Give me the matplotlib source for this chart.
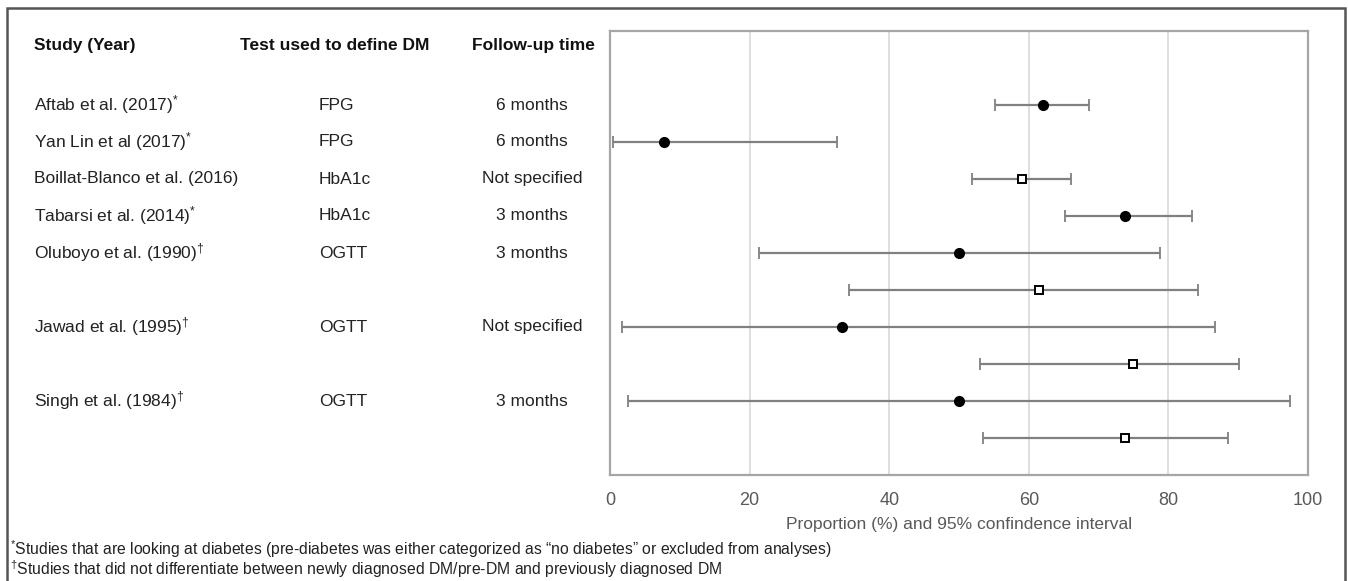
import matplotlib.pyplot as plt
import matplotlib.transforms as mtransforms
from matplotlib.patches import Rectangle

plt.rcParams['font.family'] = ['Liberation Sans', 'DejaVu Sans']
plt.rcParams['mathtext.fontset'] = 'custom'
plt.rcParams['mathtext.rm'] = 'Liberation Sans'
plt.rcParams['mathtext.it'] = 'Liberation Sans'

# Table columns (one entry per study)
studies = ['Aftab et al. (2017)$^{*}$', 'Yan Lin et al (2017)$^{*}$',
           'Boillat-Blanco et al. (2016)', 'Tabarsi et al. (2014)$^{*}$',
           'Oluboyo et al. (1990)$^{\\dagger}$', 'Jawad et al. (1995)$^{\\dagger}$',
           'Singh et al. (1984)$^{\\dagger}$']
tests = ['FPG', 'FPG', 'HbA1c', 'HbA1c', 'OGTT', 'OGTT', 'OGTT']
followup = ['6 months', '6 months', 'Not specified', '3 months', '3 months',
            'Not specified', '3 months']
study_rows = [1, 2, 3, 4, 5, 7, 9]

# Forest plot rows (proportion and 95% CI)
rows = [1, 2, 3, 4, 5, 6, 7, 8, 9, 10]
estimate = [62.1, 7.8, 59.0, 73.8, 50.0, 61.4, 33.3, 74.9, 50.0, 73.8]
ci_low = [55.1, 0.5, 51.9, 65.2, 21.3, 34.2, 1.7, 53.0, 2.6, 53.4]
ci_high = [68.6, 32.5, 66.1, 83.4, 78.8, 84.2, 86.7, 90.1, 97.4, 88.6]
marker_kind = ['circle', 'circle', 'square', 'circle', 'circle',
               'square', 'circle', 'square', 'circle', 'square']

fig = plt.figure(figsize=(13.48, 5.81), dpi=100)
ax = fig.add_axes([610 / 1348, 1 - 475 / 581, 698 / 1348, 444 / 581])

for r, est, lo, hi, kind in zip(rows, estimate, ci_low, ci_high, marker_kind):
    ax.errorbar([est], [r], xerr=[[est - lo], [hi - est]], fmt='none',
                ecolor='#808080', elinewidth=1.6, capsize=4, capthick=1.3, zorder=2)
    if kind == 'circle':
        ax.plot(est, r, 'o', color='black', markersize=7, zorder=3)
    else:
        ax.plot(est, r, 's', markerfacecolor='white', markeredgecolor='black',
                markeredgewidth=1.4, markersize=6, zorder=3)

ax.set_xlim(0, 100)
ax.set_ylim(11, -1)
ax.set_xticks([0, 20, 40, 60, 80, 100])
ax.set_yticks([])
ax.grid(axis='x', color='#d9d9d9', linewidth=1.2)
ax.set_axisbelow(True)
ax.tick_params(axis='x', length=0, pad=12, labelsize=13, labelcolor='#595959')
for s in ax.spines.values():
    s.set_color('#a6a6a6')
    s.set_linewidth(1.6)
ax.set_xlabel('Proportion (%) and 95% confindence interval', fontsize=12.5,
              color='#595959', labelpad=6)

# table text to the left, rows tied to the axes y scale
trans = mtransforms.blended_transform_factory(fig.transFigure, ax.transData)
hdr_y = -0.6
fig.text(34 / 1348, hdr_y, 'Study (Year)', transform=trans, fontsize=12.5,
         fontweight='bold', va='center', ha='left', color='#111111')
fig.text(335 / 1348, hdr_y, 'Test used to define DM', transform=trans, fontsize=12.5,
         fontweight='bold', va='center', ha='center', color='#111111')
fig.text(533 / 1348, hdr_y, 'Follow-up time', transform=trans, fontsize=12.5,
         fontweight='bold', va='center', ha='center', color='#111111')

for r, name, test, fu in zip(study_rows, studies, tests, followup):
    fig.text(34 / 1348, r, name, transform=trans, fontsize=12.5, va='center',
             ha='left', color='#222222')
    fig.text(319 / 1348, r, test, transform=trans, fontsize=12.5, va='center',
             ha='left', color='#222222')
    fig.text(532 / 1348, r, fu, transform=trans, fontsize=12.5, va='center',
             ha='center', color='#222222')

# footnotes
fig.text(10 / 1348, 1 - 549 / 581,
         '$^{*}$Studies that are looking at diabetes (pre-diabetes was either categorized as '
         '\u201cno diabetes\u201d or excluded from analyses)',
         fontsize=11.3, va='center', ha='left', color='#222222')
fig.text(10 / 1348, 1 - 569 / 581,
         '$^{\\dagger}$Studies that did not differentiate between newly diagnosed DM/pre-DM '
         'and previously diagnosed DM',
         fontsize=11.3, va='center', ha='left', color='#222222')

# outer frame
fig.patches.append(Rectangle((7 / 1348, -0.05), 1338 / 1348, 1.05 - 8 / 581,
                             transform=fig.transFigure, fill=False,
                             edgecolor='#555555', linewidth=1.8))

fig.savefig('out.png', dpi=100)
